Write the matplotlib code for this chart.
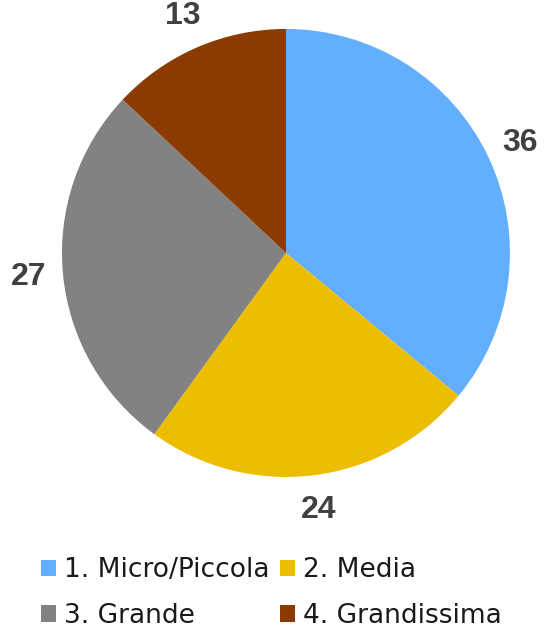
import matplotlib
matplotlib.use("Agg")
import matplotlib.pyplot as plt
from matplotlib.patches import Patch

categories = ["1. Micro/Piccola", "2. Media", "3. Grande", "4. Grandissima"]
values = [36, 24, 27, 13]
colors = ["#62AEFF", "#EDBE00", "#828282", "#8B3A00"]

fig = plt.figure(figsize=(5.49, 6.32), dpi=100)
ax = fig.add_axes([0.1129, 0.2453, 0.816, 0.7089])

wedges, texts, autotexts = ax.pie(
    values, colors=colors, startangle=90, counterclock=False,
    autopct=lambda p: f"{p:.0f}", pctdistance=1.155,
    wedgeprops=dict(linewidth=0),
)
for t in autotexts:
    t.set_fontfamily("Liberation Sans")
    t.set_fontweight("bold")
    t.set_fontsize(23)
    t.set_color("#404040")
ax.set_xlim(-1, 1)
ax.set_ylim(-1, 1)
ax.set_aspect("equal")

# legend fills row-wise in the reference
order = [0, 2, 1, 3]
handles = [Patch(facecolor=colors[i], edgecolor="none") for i in order]
labels = [categories[i] for i in order]
leg = fig.legend(handles, labels, loc="center left", bbox_to_anchor=(41 / 549, 0.0617),
                 ncol=2, frameon=False, fontsize=19, handlelength=0.57, handleheight=0.57,
                 handletextpad=0.3, columnspacing=0.4, labelspacing=0.75,
                 borderpad=0, borderaxespad=0)
for t in leg.get_texts():
    t.set_color("#1a1a1a")

fig.savefig("out.png", dpi=100)
